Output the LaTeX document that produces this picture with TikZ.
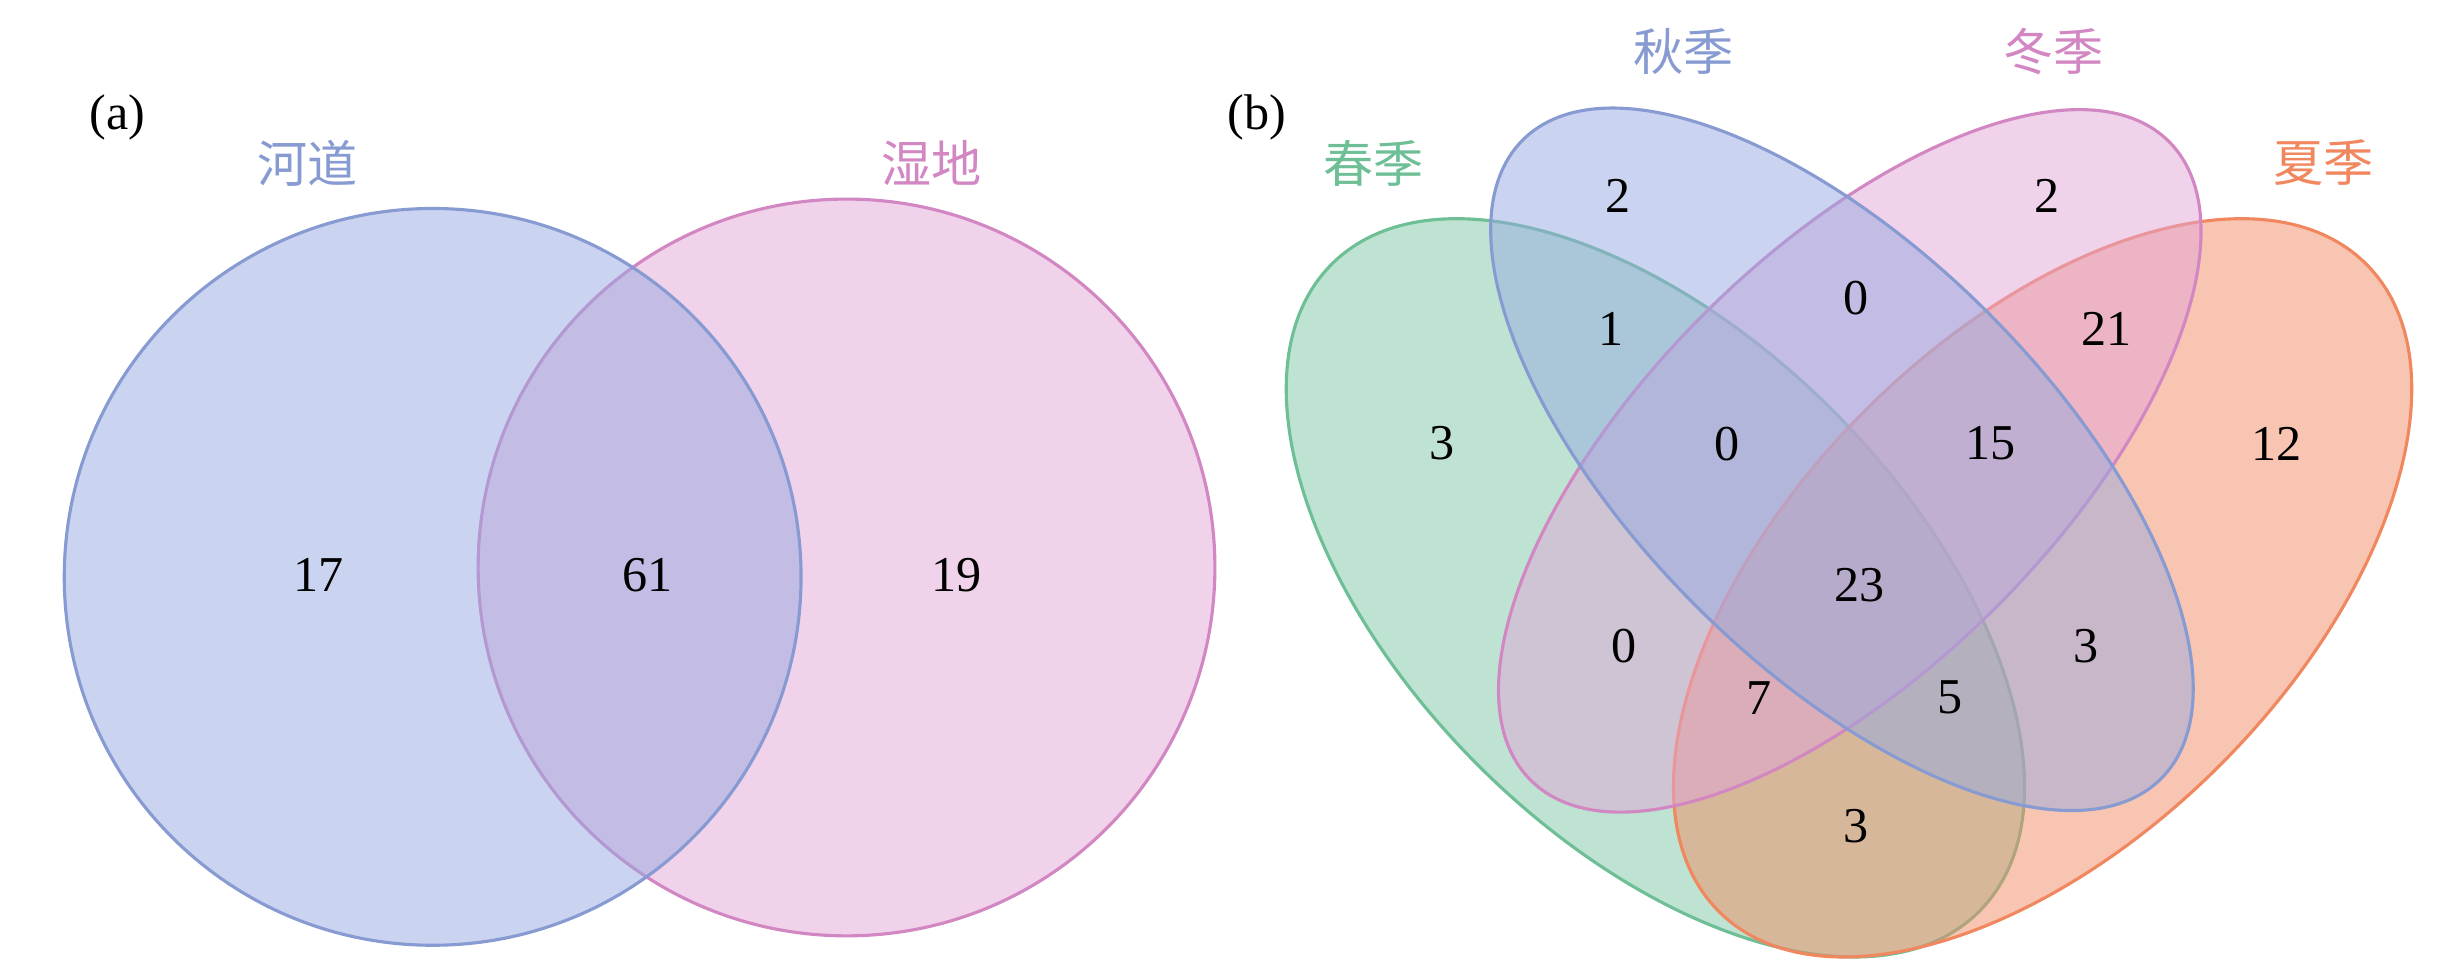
\documentclass[tikz,border=0pt]{standalone}
\usepackage{fontspec}
\setmainfont{Liberation Serif}
\newfontfamily\cjk{Noto Sans CJK SC}
\begin{document}
\begin{tikzpicture}[x=0.5pt,y=-0.5pt,
  num/.style={font=\fontsize{16}{18}\selectfont},
  lab/.style={font=\cjk\fontsize{16}{18}\selectfont}]
\useasboundingbox (0,0) rectangle (1568,624);
\definecolor{cb}{RGB}{150,170,225}\definecolor{cbs}{RGB}{135,155,210}
\definecolor{cp}{RGB}{225,165,215}\definecolor{cps}{RGB}{210,135,195}
\definecolor{cg}{RGB}{125,200,165}\definecolor{cgs}{RGB}{110,190,150}
\definecolor{co}{RGB}{240,140,100}\definecolor{cos}{RGB}{240,135,95}
% (a)
\draw[cps,line width=1pt,fill=cp,fill opacity=0.5] (540,362) circle[radius=235];
\draw[cbs,line width=1pt,fill=cb,fill opacity=0.5] (276,368) circle[radius=235];
\node[num] (pa) at (75,75) {(a)};
\node[lab,text=cbs] (l1) at (196,104) {河道};
\node[lab,text=cps] (l2) at (594,104) {湿地};
\node[num] (n1) at (203,367) {17};
\node[num] (n2) at (413,367) {61};
\node[num] (n3) at (610,367) {19};
% (b)
\draw[cgs,line width=1pt,fill=cg,fill opacity=0.5] (1056,375) ellipse[x radius=292, y radius=160, rotate=-45];
\draw[cos,line width=1pt,fill=co,fill opacity=0.5] (1303,375) ellipse[x radius=292, y radius=160, rotate=45];
\draw[cps,line width=1pt,fill=cp,fill opacity=0.5] (1180,294) ellipse[x radius=288, y radius=132, rotate=45];
\draw[cbs,line width=1pt,fill=cb,fill opacity=0.5] (1175,293) ellipse[x radius=288, y radius=132, rotate=-45];
\node[num] (pb) at (802,75) {(b)};
\node[lab,text=cgs] (s1) at (876,104) {春季};
\node[lab,text=cbs] (s2) at (1074,33) {秋季};
\node[lab,text=cps] (s3) at (1310,33) {冬季};
\node[lab,text=cos] (s4) at (1482,104) {夏季};
\node[num] (r1) at (920,283) {3};
\node[num] (r2) at (1032,125) {2};
\node[num] (r3) at (1306,125) {2};
\node[num] (r4) at (1452,283) {12};
\node[num] (r5) at (1028,210) {1};
\node[num] (r6) at (1184,190) {0};
\node[num] (r7) at (1344,210) {21};
\node[num] (r8) at (1102,283) {0};
\node[num] (r9) at (1270,283) {15};
\node[num] (r10) at (1186,373) {23};
\node[num] (r11) at (1036,412) {0};
\node[num] (r12) at (1331,412) {3};
\node[num] (r13) at (1122,445) {7};
\node[num] (r14) at (1244,445) {5};
\node[num] (r15) at (1184,527) {3};
\end{tikzpicture}
\end{document}
